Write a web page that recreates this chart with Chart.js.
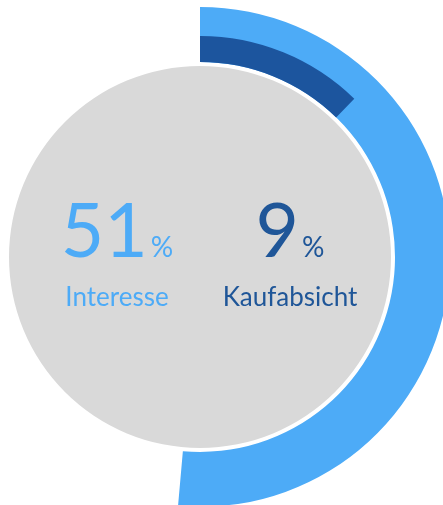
<!DOCTYPE html>
<html>
<head>
<meta charset="utf-8">
<script src="https://cdn.jsdelivr.net/npm/chart.js@4.4.1/dist/chart.umd.min.js"></script>
<style>
  html, body { margin: 0; padding: 0; width: 443px; height: 505px; overflow: hidden; background: #ffffff; }
  .wrap { position: absolute; left: -50px; top: 7px; width: 500px; height: 500px; }
  .wrap canvas { position: absolute; left: 0; top: 0; }
</style>
</head>
<body>
<div class="wrap">
  <canvas id="base" width="500" height="500"></canvas>
  <canvas id="top" width="500" height="500"></canvas>
</div>
<script>
// ---- data ----
const categories = ['Interesse', 'Kaufabsicht'];
const values = [51, 9];            // percentages shown as labels
const arcShares = [51.4, 12.3];    // arc length drawn, in percent of a full circle
const colors = ['#4DABF7', '#1C559E'];
const circleColor = '#D9D9D9';
const T = 'rgba(0,0,0,0)';

const common = {
  type: 'doughnut',
  options: {
    responsive: false,
    devicePixelRatio: 1,
    animation: false,
    cutout: 0,
    rotation: 0,
    circumference: 360,
    layout: { padding: 0 },
    events: [],
    plugins: { legend: { display: false }, tooltip: { enabled: false } },
    elements: { arc: { borderWidth: 0 } }
  }
};

// Base chart: outer light-blue ring (Interesse) + grey disc
new Chart(document.getElementById('base'), {
  ...common,
  data: {
    labels: [categories[0], ''],
    datasets: [
      { data: [arcShares[0], 100 - arcShares[0]], backgroundColor: [colors[0], T], weight: 55, borderWidth: 0 },
      { data: [100], backgroundColor: [T], weight: 4, borderWidth: 0 },
      { data: [100], backgroundColor: [circleColor], weight: 191, borderWidth: 0 }
    ]
  }
});

// Text plugin
const labelPlugin = {
  id: 'centerLabels',
  afterDraw(chart) {
    const arc = chart.getDatasetMeta(1).data[0];
    const cx = arc.x, cy = arc.y;
    const ctx = chart.ctx;
    const groups = [
      { x: cx - 83, color: colors[0], num: String(values[0]), label: categories[0] },
      { x: cx + 90, color: colors[1], num: String(values[1]), label: categories[1] }
    ];
    ctx.save();
    ctx.textBaseline = 'alphabetic';
    ctx.textAlign = 'left';
    groups.forEach((g, i) => {
      ctx.fillStyle = i === 0 ? '#4DABF7' : '#1F5698';
      ctx.font = '75px Lato';
      const wn = ctx.measureText(g.num).width;
      ctx.font = '28px Lato';
      const wp = ctx.measureText('%').width;
      const gap = 3;
      const start = g.x - (wn + gap + wp) / 2;
      ctx.font = '75px Lato';
      ctx.fillText(g.num, start, cy);
      ctx.font = '28px Lato';
      ctx.fillText('%', start + wn + gap, cy);
      ctx.font = '26px Lato';
      ctx.textAlign = 'center';
      ctx.fillText(g.label, g.x, cy + 49);
      ctx.textAlign = 'left';
    });
    ctx.restore();
  }
};

// Top chart: dark-blue ring (Kaufabsicht) overlapping the inner part of the light ring
new Chart(document.getElementById('top'), {
  ...common,
  data: {
    labels: [categories[1], ''],
    datasets: [
      { data: [100], backgroundColor: [T], weight: 29, borderWidth: 0 },
      { data: [arcShares[1], 100 - arcShares[1]], backgroundColor: [colors[1], T], weight: 26, borderWidth: 0 },
      { data: [100], backgroundColor: [T], weight: 195, borderWidth: 0 }
    ]
  },
  plugins: [labelPlugin]
});
</script>
</body>
</html>
